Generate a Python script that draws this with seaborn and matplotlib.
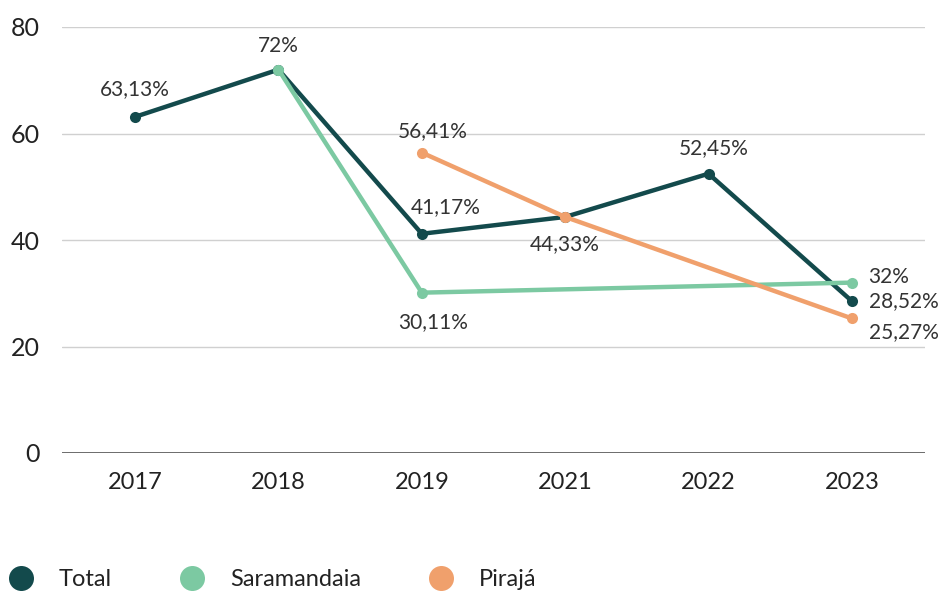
import matplotlib
matplotlib.use("Agg")
import matplotlib.pyplot as plt
import seaborn as sns
import pandas as pd
import numpy as np
from matplotlib.lines import Line2D

years = ["2017", "2018", "2019", "2021", "2022", "2023"]
total = [63.13, 72.0, 41.17, 44.33, 52.45, 28.52]
saramandaia = [np.nan, 72.0, 30.11, np.nan, np.nan, 32.0]
piraja = [np.nan, np.nan, 56.41, 44.33, np.nan, 25.27]
series_names = ["Total", "Saramandaia", "Pirajá"]
colors = {"Total": "#134a4c", "Saramandaia": "#7cc9a2", "Pirajá": "#f0a06c"}

rows = []
for name, vals in zip(series_names, [total, saramandaia, piraja]):
    for y, v in zip(years, vals):
        rows.append({"Ano": y, "Valor": v, "Série": name})
df = pd.DataFrame(rows).dropna()
df["pos"] = pd.Categorical(df["Ano"], categories=years).codes

sns.set_theme(style="white")
plt.rcParams["font.family"] = ["Lato", "DejaVu Sans"]

fig = plt.figure(figsize=(9.41, 5.96), dpi=100)
ax = fig.add_axes([62/941, (596-453)/596, (925-62)/941, 426/596])

sns.lineplot(data=df, x="pos", y="Valor", hue="Série", hue_order=series_names,
             palette=colors, ax=ax, linewidth=3.2, marker="o", markersize=8,
             markeredgewidth=0, sort=True, legend=False)

ax.set_xticks(range(len(years)))
ax.set_xticklabels(years)
ax.set_xlim(-0.51, 5.51)
ax.set_ylim(0, 80)
ax.set_yticks([0, 20, 40, 60, 80])
ax.yaxis.grid(True, color="#d0d0d0", linewidth=1)
ax.set_axisbelow(True)
for s in ["top", "right", "left", "bottom"]:
    ax.spines[s].set_visible(False)
ax.axhline(0, color="#555555", linewidth=1.2, zorder=1)
ax.set_xlabel("")
ax.set_ylabel("")
ax.tick_params(axis="x", length=0, pad=14, labelsize=17, labelcolor="#222222")
ax.tick_params(axis="y", length=0, pad=16, labelsize=18, labelcolor="#222222")

def fmt(v):
    s = f"{v:.2f}".rstrip("0").rstrip(".")
    return s.replace(".", ",") + "%"

lab_kw = dict(fontsize=15, color="#333333")
idx = {y: i for i, y in enumerate(years)}
annots = [
    (total, "2017", 0, 13, "center", "bottom"),
    (total, "2018", 0, 10, "center", "bottom"),
    (piraja, "2019", 8, 8, "center", "bottom"),
    (total, "2019", 17, 12, "center", "bottom"),
    (total, "2021", 0, -12, "center", "top"),
    (total, "2022", 4, 11, "center", "bottom"),
    (saramandaia, "2019", 8, -14, "center", "top"),
    (saramandaia, "2023", 12, 4, "left", "center"),
    (total, "2023", 12, 0, "left", "center"),
    (piraja, "2023", 12, -10, "left", "center"),
]
for vals, yr, dx, dy, ha, va in annots:
    i = idx[yr]
    v = vals[i]
    ax.annotate(fmt(v), (i, v), xytext=(dx, dy), textcoords="offset points",
                ha=ha, va=va, **lab_kw)

handles = [Line2D([], [], linestyle="none", marker="o", markersize=18,
                  markerfacecolor=colors[n], markeredgewidth=0) for n in series_names]
fig.legend(handles, series_names, loc="center left", bbox_to_anchor=(0.0, (596-580)/596),
           ncol=3, frameon=False, fontsize=17, handletextpad=1.1, columnspacing=2.9,
           borderaxespad=0, handlelength=1.0, labelcolor="#222222")

fig.savefig("out.png", dpi=100)
